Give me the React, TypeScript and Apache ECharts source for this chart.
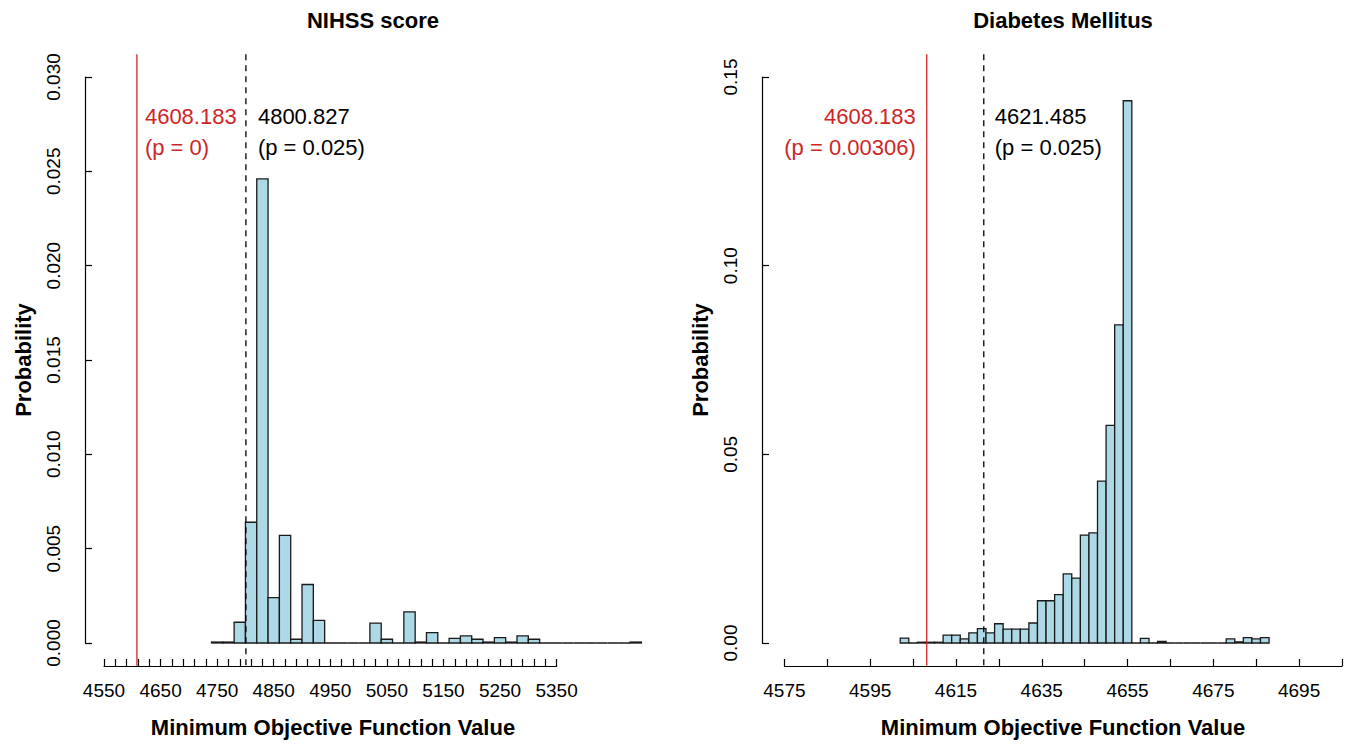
import React, { useEffect, useRef } from "react";
import * as echarts from "echarts";

// ---------------- data ----------------
// NIHSS score permutation histogram (bin width 20, first bin starts at 4740)
const nihssBinStart = 4740;
const nihssBinWidth = 20;
const nihssProb = [
  0.00005, 0.00005, 0.0011, 0.0064, 0.0246, 0.0024, 0.0057, 0.0002, 0.0031, 0.0012,
  0, 0, 0, 0, 0.00105, 0.0002, 0, 0.00165, 0.00005, 0.00055,
  0, 0.00025, 0.00038, 0.0002, 0.00005, 0.00028, 0.00005, 0.00038, 0.0002, 0,
  0, 0, 0, 0, 0, 0, 0, 0.00005,
];
const nihssCutoffs = [4608.183, 4800.827];
const nihssPValues = ["0", "0.025"];
const nihssXLabels = [4550, 4650, 4750, 4850, 4950, 5050, 5150, 5250, 5350];
const nihssYTicks = [0, 0.005, 0.01, 0.015, 0.02, 0.025, 0.03];

// Diabetes Mellitus permutation histogram (bin width 2, first bin starts at 4602)
const dmBinStart = 4602;
const dmBinWidth = 2;
const dmProb = [
  0.0013, 0, 0.0002, 0.0002, 0.0002, 0.0021, 0.0021, 0.0011, 0.0027, 0.0038,
  0.0027, 0.0051, 0.0037, 0.0037, 0.0037, 0.0053, 0.0112, 0.0112, 0.0128, 0.0183,
  0.0172, 0.0286, 0.0292, 0.0429, 0.0577, 0.0843, 0.1437, 0, 0.0012, 0,
  0.0004, 0, 0, 0, 0, 0, 0, 0, 0.0011, 0.0003,
  0.0014, 0.0011, 0.0014,
];
const dmCutoffs = [4608.183, 4621.485];
const dmPValues = ["0.00306", "0.025"];
const dmXLabels = [4575, 4595, 4615, 4635, 4655, 4675, 4695];
const dmYTicks = [0, 0.05, 0.1, 0.15];

const titles = ["NIHSS score", "Diabetes Mellitus"];
const xTitle = "Minimum Objective Function Value";
const yTitle = "Probability";

// ---------------- styles ----------------
const FONT = '"Liberation Sans", Arial, Helvetica, sans-serif';
const RED = "#CD2626";
const BAR_FILL = "#ADD8E6";
const BAR_STROKE = "#1a1a1a";

function binsOf(start: number, width: number, probs: number[]) {
  return probs.map((p, i) => [start + i * width, start + (i + 1) * width, p]);
}

function histSeries(idx: number, data: number[][]) {
  return {
    type: "custom",
    xAxisIndex: idx,
    yAxisIndex: idx,
    clip: false,
    silent: true,
    z: 2,
    encode: { x: [0, 1], y: 2 },
    data,
    renderItem: (params: any, api: any) => {
      const x0 = api.value(0);
      const x1 = api.value(1);
      const y = api.value(2);
      const p0 = api.coord([x0, y]);
      const p1 = api.coord([x1, 0]);
      return {
        type: "rect",
        shape: { x: p0[0], y: p0[1], width: p1[0] - p0[0], height: p1[1] - p0[1] },
        style: { fill: BAR_FILL, stroke: BAR_STROKE, lineWidth: 1.3 },
      };
    },
  };
}

function cutoffSeries(
  idx: number,
  cutoffs: number[],
  pvals: string[],
  yMax: number,
  sides: string[],
  gaps: number[]
) {
  return {
    type: "custom",
    xAxisIndex: idx,
    yAxisIndex: idx,
    clip: false,
    silent: true,
    z: 5,
    encode: { x: 0, y: 1 },
    data: cutoffs.map((c) => [c, 0]),
    renderItem: (params: any, api: any) => {
      const i = params.dataIndex;
      const x = api.value(0);
      const top = api.coord([x, yMax * 1.04]);
      const bot = api.coord([x, -yMax * 0.04]);
      const axisTop = api.coord([x, yMax])[1];
      const observed = i === 0;
      const color = observed ? RED : "#000";
      const side = sides[i];
      const tx = side === "right" ? top[0] + gaps[i] : top[0] - gaps[i];
      const align = side === "right" ? "left" : "right";
      return {
        type: "group",
        children: [
          {
            type: "line",
            shape: { x1: top[0], y1: top[1], x2: bot[0], y2: bot[1] },
            style: { stroke: color, lineWidth: 1.3, lineDash: observed ? null : [6, 5] },
          },
          {
            type: "text",
            x: tx,
            y: axisTop + 39,
            style: {
              text: x.toFixed(3),
              fill: color,
              fontSize: 22,
              fontFamily: FONT,
              align,
              verticalAlign: "middle",
            },
          },
          {
            type: "text",
            x: tx,
            y: axisTop + 70,
            style: {
              text: "(p = " + pvals[i] + ")",
              fill: color,
              fontSize: 22,
              fontFamily: FONT,
              align,
              verticalAlign: "middle",
            },
          },
        ],
      };
    },
  };
}

function xAxisOf(idx: number, min: number, max: number, step: number, labels: number[], offset: number) {
  return {
    gridIndex: idx,
    type: "value",
    min,
    max,
    interval: step,
    offset,
    axisLine: { show: true, onZero: false, lineStyle: { color: "#000", width: 1.2 } },
    axisTick: { show: true, inside: true, length: 7, lineStyle: { color: "#000", width: 1.2 } },
    splitLine: { show: false },
    axisLabel: {
      show: true,
      color: "#000",
      fontSize: 19,
      fontFamily: FONT,
      margin: 15,
      hideOverlap: false,
      formatter: (v: number) => (labels.some((l) => Math.abs(l - v) < 1e-6) ? String(Math.round(v)) : ""),
    },
  };
}

function yAxisOf(idx: number, ticks: number[], digits: number, offset: number) {
  return {
    gridIndex: idx,
    type: "value",
    min: ticks[0],
    max: ticks[ticks.length - 1],
    interval: ticks[1] - ticks[0],
    offset,
    axisLine: { show: true, lineStyle: { color: "#000", width: 1.2 } },
    axisTick: { show: true, inside: true, length: 7, lineStyle: { color: "#000", width: 1.2 } },
    splitLine: { show: false },
    axisLabel: {
      show: true,
      rotate: 90,
      color: "#000",
      fontSize: 19,
      fontFamily: FONT,
      margin: 22,
      formatter: (v: number) => v.toFixed(digits),
    },
  };
}

export default function App() {
  const ref = useRef<HTMLDivElement>(null);

  useEffect(() => {
    if (!ref.current) return;
    const chart = echarts.init(ref.current, null, { renderer: "svg", width: 1347, height: 750 });

    const boldText = (text: string, x: number, y: number, rotate = 0) => ({
      type: "text",
      x,
      y,
      rotation: rotate,
      style: {
        text,
        fill: "#000",
        fontSize: 22,
        fontWeight: "bold",
        fontFamily: FONT,
        align: "center",
        verticalAlign: "middle",
      },
    });

    chart.setOption({
      animation: false,
      backgroundColor: "#ffffff",
      textStyle: { fontFamily: FONT },
      grid: [
        { left: 104, top: 77, width: 452.6, height: 566 },
        { left: 784.4, top: 77, width: 557.6, height: 566 },
      ],
      xAxis: [
        xAxisOf(0, 4550, 5350, 20, nihssXLabels, 23),
        xAxisOf(1, 4575, 4705, 10, dmXLabels, 23),
      ],
      yAxis: [yAxisOf(0, nihssYTicks, 3, 19), yAxisOf(1, dmYTicks, 2, 22.4)],
      series: [
        histSeries(0, binsOf(nihssBinStart, nihssBinWidth, nihssProb)),
        histSeries(1, binsOf(dmBinStart, dmBinWidth, dmProb)),
        cutoffSeries(0, nihssCutoffs, nihssPValues, 0.03, ["right", "right"], [8, 12]),
        cutoffSeries(1, dmCutoffs, dmPValues, 0.15, ["left", "right"], [11, 11]),
      ],
      graphic: [
        boldText(titles[0], 373, 20),
        boldText(titles[1], 1063, 20),
        boldText(xTitle, 333, 727),
        boldText(xTitle, 1063, 727),
        boldText(yTitle, 23, 360, Math.PI / 2),
        boldText(yTitle, 700, 360, Math.PI / 2),
      ],
    });

    return () => chart.dispose();
  }, []);

  return (
    <div
      ref={ref}
      style={{ position: "fixed", left: 0, top: 0, width: 1347, height: 750, background: "#fff" }}
    />
  );
}
